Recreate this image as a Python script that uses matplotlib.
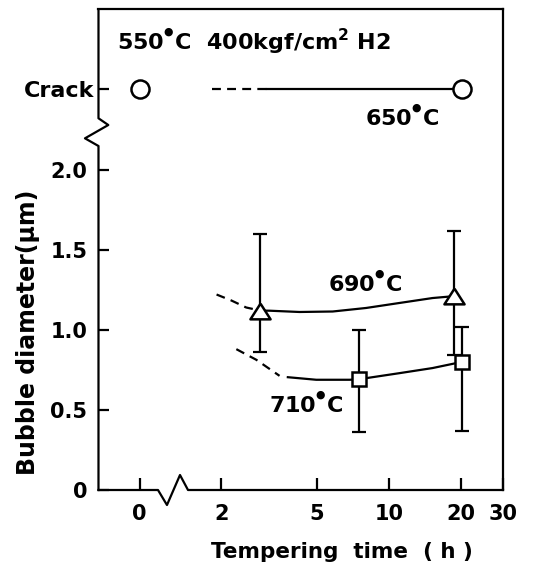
import numpy as np
import matplotlib.pyplot as plt

plt.rcParams["font.family"] = ["DejaVu Sans"]
plt.rcParams["font.weight"] = "bold"
plt.rcParams["mathtext.default"] = "bf"

# time axis: log scale in hours, 0 h drawn left of the axis break
TIME_TICKS = [0, 2, 5, 10, 20, 30]
TIME_LABELS = ["0", "2", "5", "10", "20", "30"]
DIAM_TICKS = [0, 0.5, 1.0, 1.5, 2.0]
DIAM_LABELS = ["0", "0.5", "1.0", "1.5", "2.0"]
CRACK_LEVEL = 2.5

# 650 C : cracked specimens
crack_t = [0, 20.2]
crack_dash_t = [1.82, 3.1]
crack_line_t = [3.1, 20.2]

# 690 C
t_690 = [2.9, 18.8]
d_690 = [1.12, 1.21]
lo_690 = [0.86, 0.84]
hi_690 = [1.60, 1.615]
fit_690_dash_t = [1.91, 2.20, 2.54, 2.9]
fit_690_dash_d = [1.22, 1.183, 1.139, 1.12]
fit_690_t = [2.9, 3.18, 4.24, 5.83, 8.04, 11.06, 15.23, 18.8]
fit_690_d = [1.12, 1.119, 1.111, 1.114, 1.136, 1.167, 1.198, 1.21]

# 710 C
t_710 = [7.49, 20.3]
d_710 = [0.69, 0.80]
lo_710 = [0.36, 0.37]
hi_710 = [1.00, 1.02]
fit_710_dash_t = [2.31, 2.80, 3.50]
fit_710_dash_d = [0.879, 0.8125, 0.7125]
fit_710_t = [3.79, 4.98, 6.85, 7.49, 8.04, 11.06, 15.23, 20.3]
fit_710_d = [0.704, 0.688, 0.688, 0.69, 0.698, 0.729, 0.761, 0.80]

ZERO_POS = -0.04  # position of t = 0 on the broken axis
DEG = "$^{^{\u25cf}}$"
FS = 15


# Map hours to the axis position (log10, with 0 h put before the break)
def tpos(t):
    t = np.asarray(t, dtype=float)
    return np.where(t > 0, np.log10(np.where(t > 0, t, 1.0)), ZERO_POS)


def main():
    fig = plt.figure(figsize=(5.37, 5.64), dpi=100)
    ax = fig.add_axes([0.1834, 0.1312, 0.7533, 0.8523])
    ax.set_xlim(-0.212, np.log10(30))
    ax.set_ylim(0, 3.0)

    lw = 1.6
    dash = (0, (4.0, 2.8))

    # 650 C crack line
    ax.plot(tpos(crack_dash_t), [CRACK_LEVEL] * 2, color="k", lw=lw, ls=dash)
    ax.plot(tpos(crack_line_t), [CRACK_LEVEL] * 2, color="k", lw=lw)
    ax.plot(tpos(crack_t), [CRACK_LEVEL] * 2, ls="none", marker="o", ms=13,
            mfc="white", mec="k", mew=1.8, zorder=5)

    # trend curves
    ax.plot(tpos(fit_690_dash_t), fit_690_dash_d, color="k", lw=lw, ls=dash)
    ax.plot(tpos(fit_690_t), fit_690_d, color="k", lw=lw)
    ax.plot(tpos(fit_710_dash_t), fit_710_dash_d, color="k", lw=lw, ls=dash)
    ax.plot(tpos(fit_710_t), fit_710_d, color="k", lw=lw)

    # error bars
    for t, d, lo, hi in [(t_690, d_690, lo_690, hi_690), (t_710, d_710, lo_710, hi_710)]:
        d = np.array(d)
        yerr = [d - np.array(lo), np.array(hi) - d]
        ax.errorbar(tpos(t), d, yerr=yerr, fmt="none", ecolor="k", elinewidth=lw,
                    capsize=5, capthick=lw, zorder=3)

    tri = [(0, 0.78), (-1, -0.78), (1, -0.78), (0, 0.78)]
    ax.plot(tpos(t_690), d_690, ls="none", marker=tri, ms=14.5, mfc="white",
            mec="k", mew=1.8, zorder=5)
    ax.plot(tpos(t_710), d_710, ls="none", marker="s", ms=10.5, mfc="white",
            mec="k", mew=1.8, zorder=5)

    # annotations
    ax.text(-0.133, 2.80, "550" + DEG + "C  400kgf/cm$^2$ H2", fontsize=16,
            ha="left", va="center")
    ax.text(1.055, 2.325, "650" + DEG + "C", fontsize=16, ha="center", va="center")
    ax.text(0.901, 1.292, "690" + DEG + "C", fontsize=16, ha="center", va="center")
    ax.text(0.655, 0.538, "710" + DEG + "C", fontsize=16, ha="center", va="center")

    # ticks
    ax.set_xticks(tpos(TIME_TICKS), TIME_LABELS)
    ax.set_yticks(DIAM_TICKS, DIAM_LABELS)
    ax.set_yticks([CRACK_LEVEL], ["Crack"], minor=True)
    ax.tick_params(axis="x", direction="in", length=9, width=1.6, pad=10, labelsize=FS)
    ax.tick_params(axis="y", which="major", direction="in", length=8, width=1.6,
                   pad=8, labelsize=FS)
    ax.tick_params(axis="y", which="minor", direction="in", length=8, width=1.6,
                   pad=3, labelsize=16)

    # spines, with breaks drawn by hand on left and bottom
    for side in ["top", "right"]:
        ax.spines[side].set_linewidth(1.6)
    ax.spines["left"].set_visible(False)
    ax.spines["bottom"].set_visible(False)
    left_x = [0, 0, -0.0334, 0.0242, 0, 0]
    left_y = [0, 0.7156, 0.7316, 0.7593, 0.7733, 1]
    ax.plot(left_x, left_y, color="k", lw=1.6, transform=ax.transAxes, clip_on=False)
    bot_x = [0, 0.1471, 0.1693, 0.2015, 0.2213, 1]
    bot_y = [0, 0, -0.0312, 0.0312, 0, 0]
    ax.plot(bot_x, bot_y, color="k", lw=1.6, transform=ax.transAxes, clip_on=False)

    fig.text(0.052, 0.411, "Bubble diameter(\u03bcm)", rotation=90, fontsize=17,
             ha="center", va="center")
    fig.text(0.637, 0.022, "Tempering  time  ( h )", fontsize=15.5, ha="center",
             va="center")

    fig.savefig("out.png", dpi=100)


if __name__ == "__main__":
    main()
